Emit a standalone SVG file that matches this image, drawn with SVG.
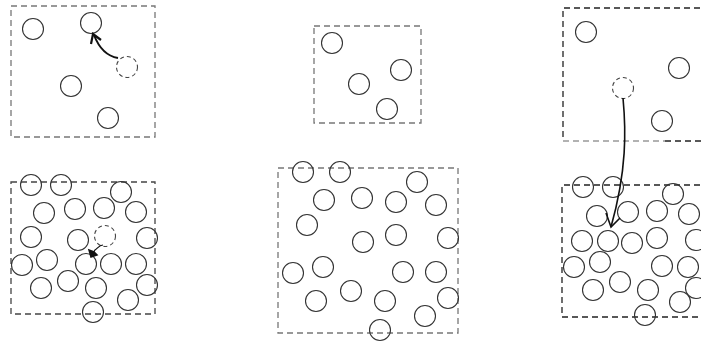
<svg xmlns="http://www.w3.org/2000/svg" width="701" height="346" viewBox="0 0 701 346">
<style>
.c{fill:none;stroke:#333;stroke-width:1.1}
.d{fill:none;stroke:#444;stroke-width:1.1;stroke-dasharray:4 3}
.bg{fill:none;stroke:#777;stroke-width:1.3;stroke-dasharray:6 4}
.bk{fill:none;stroke:#222;stroke-width:1.3;stroke-dasharray:6 4}
.a{fill:none;stroke:#111;stroke-width:1.6}
</style>
<rect width="701" height="346" fill="#fff"/>
<g id="panel1">
<rect class="bg" x="11" y="6" width="144" height="131"/>
<circle class="c" cx="33" cy="29" r="10.5"/>
<circle class="c" cx="91" cy="23" r="10.5"/>
<circle class="c" cx="71" cy="86" r="10.5"/>
<circle class="c" cx="108" cy="118" r="10.5"/>
<circle class="d" cx="127" cy="67" r="10.5"/>
</g>
<g id="panel2">
<rect class="bk" x="11" y="182" width="144" height="132" style="stroke:#444"/>
<circle class="c" cx="31" cy="185" r="10.5"/>
<circle class="c" cx="61" cy="185" r="10.5"/>
<circle class="c" cx="121" cy="192" r="10.5"/>
<circle class="c" cx="44" cy="213" r="10.5"/>
<circle class="c" cx="75" cy="209" r="10.5"/>
<circle class="c" cx="104" cy="208" r="10.5"/>
<circle class="c" cx="136" cy="212" r="10.5"/>
<circle class="c" cx="31" cy="237" r="10.5"/>
<circle class="c" cx="78" cy="240" r="10.5"/>
<circle class="d" cx="105" cy="236" r="10.5"/>
<circle class="c" cx="147" cy="238" r="10.5"/>
<circle class="c" cx="47" cy="260" r="10.5"/>
<circle class="c" cx="22" cy="265" r="10.5"/>
<circle class="c" cx="86" cy="264" r="10.5"/>
<circle class="c" cx="111" cy="264" r="10.5"/>
<circle class="c" cx="136" cy="264" r="10.5"/>
<circle class="c" cx="41" cy="288" r="10.5"/>
<circle class="c" cx="68" cy="281" r="10.5"/>
<circle class="c" cx="96" cy="288" r="10.5"/>
<circle class="c" cx="147" cy="285" r="10.5"/>
<circle class="c" cx="128" cy="300" r="10.5"/>
<circle class="c" cx="93" cy="312" r="10.5"/>
</g>
<g id="panel3">
<rect class="bg" x="314" y="26" width="107" height="97"/>
<circle class="c" cx="332" cy="43" r="10.5"/>
<circle class="c" cx="401" cy="70" r="10.5"/>
<circle class="c" cx="359" cy="84" r="10.5"/>
<circle class="c" cx="387" cy="109" r="10.5"/>
</g>
<g id="panel4">
<rect class="bg" x="278" y="168" width="180" height="165"/>
<circle class="c" cx="303" cy="172" r="10.5"/>
<circle class="c" cx="340" cy="172" r="10.5"/>
<circle class="c" cx="417" cy="182" r="10.5"/>
<circle class="c" cx="324" cy="200" r="10.5"/>
<circle class="c" cx="362" cy="198" r="10.5"/>
<circle class="c" cx="396" cy="202" r="10.5"/>
<circle class="c" cx="436" cy="205" r="10.5"/>
<circle class="c" cx="307" cy="225" r="10.5"/>
<circle class="c" cx="363" cy="242" r="10.5"/>
<circle class="c" cx="396" cy="235" r="10.5"/>
<circle class="c" cx="448" cy="238" r="10.5"/>
<circle class="c" cx="323" cy="267" r="10.5"/>
<circle class="c" cx="293" cy="273" r="10.5"/>
<circle class="c" cx="403" cy="272" r="10.5"/>
<circle class="c" cx="436" cy="272" r="10.5"/>
<circle class="c" cx="351" cy="291" r="10.5"/>
<circle class="c" cx="316" cy="301" r="10.5"/>
<circle class="c" cx="385" cy="301" r="10.5"/>
<circle class="c" cx="448" cy="298" r="10.5"/>
<circle class="c" cx="425" cy="316" r="10.5"/>
<circle class="c" cx="380" cy="330" r="10.5"/>
</g>
<g id="panel5">
<path class="bk" d="M710 8H563V141"/>
<path class="bg" d="M563 141H665" style="stroke:#999"/>
<path class="bk" d="M665 141H710"/>
<circle class="c" cx="586" cy="32" r="10.5"/>
<circle class="c" cx="679" cy="68" r="10.5"/>
<circle class="c" cx="662" cy="121" r="10.5"/>
<circle class="d" cx="623" cy="88" r="10.5"/>
</g>
<g id="panel6">
<path class="bk" d="M710 185H562V317H710"/>
<circle class="c" cx="583" cy="187" r="10.5"/>
<circle class="c" cx="613" cy="187" r="10.5"/>
<circle class="c" cx="673" cy="194" r="10.5"/>
<circle class="c" cx="597" cy="216" r="10.5"/>
<circle class="c" cx="628" cy="212" r="10.5"/>
<circle class="c" cx="657" cy="211" r="10.5"/>
<circle class="c" cx="689" cy="214" r="10.5"/>
<circle class="c" cx="582" cy="241" r="10.5"/>
<circle class="c" cx="608" cy="241" r="10.5"/>
<circle class="c" cx="632" cy="243" r="10.5"/>
<circle class="c" cx="657" cy="238" r="10.5"/>
<circle class="c" cx="696" cy="240" r="10.5"/>
<circle class="c" cx="574" cy="267" r="10.5"/>
<circle class="c" cx="600" cy="262" r="10.5"/>
<circle class="c" cx="662" cy="266" r="10.5"/>
<circle class="c" cx="688" cy="267" r="10.5"/>
<circle class="c" cx="593" cy="290" r="10.5"/>
<circle class="c" cx="620" cy="282" r="10.5"/>
<circle class="c" cx="648" cy="290" r="10.5"/>
<circle class="c" cx="696" cy="288" r="10.5"/>
<circle class="c" cx="680" cy="302" r="10.5"/>
<circle class="c" cx="645" cy="315" r="10.5"/>
</g>
<g id="connectors">
<path class="a" d="M118 58C106 56 99 48 94 35" style="stroke-width:2"/>
<path class="a" d="M91 44L93 34L101 40" style="stroke-width:2.2"/>
<path class="a" d="M103 245C99 245 98 248 95 250L92 255" style="stroke-width:1.2"/>
<path d="M89 250L91 257L97 255L94 252Z" fill="#111" stroke="#111" stroke-width="1.5"/>
<path class="a" d="M623 98C626 130 627 170 611 227"/>
<path class="a" d="M606 213L611 227L620 218"/>
</g>
</svg>
